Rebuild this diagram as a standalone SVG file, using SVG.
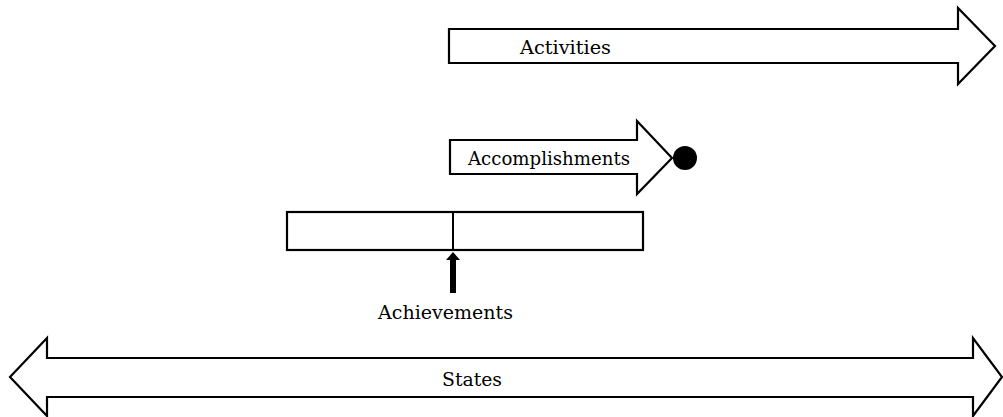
<svg xmlns="http://www.w3.org/2000/svg" width="1003" height="417" viewBox="0 0 1003 417">
  <style>
    .shape { fill: #ffffff; stroke: #000000; stroke-width: 2.2; stroke-linejoin: miter; }
    .label { font-family: "DejaVu Serif", "Liberation Serif", serif; font-size: 19px; fill: #000000; }
  </style>
  <rect x="0" y="0" width="1003" height="417" fill="#ffffff"/>

  <!-- Activities: long right-pointing block arrow -->
  <g id="activities">
    <path class="shape" d="M449,29 H958 V8 L995,46 L958,84 V63 H449 Z"/>
    <text class="label" x="520" y="54" textLength="91" lengthAdjust="spacingAndGlyphs">Activities</text>
  </g>

  <!-- Accomplishments: shorter block arrow ending in a dot -->
  <g id="accomplishments">
    <path class="shape" d="M450,140 H637 V121 L672,158 L637,194 V174 H450 Z"/>
    <circle cx="685" cy="158" r="12" fill="#000000"/>
    <text class="label" x="468" y="165" textLength="162" lengthAdjust="spacingAndGlyphs">Accomplishments</text>
  </g>

  <!-- Achievements: bar with a single point marked -->
  <g id="achievements">
    <rect class="shape" x="287" y="212" width="356" height="38"/>
    <line x1="453" y1="212" x2="453" y2="250" stroke="#000000" stroke-width="2"/>
    <path d="M453,252 L460,260 H456 V293 H450 V260 H446 Z" fill="#000000"/>
    <text class="label" x="378" y="319" textLength="135" lengthAdjust="spacingAndGlyphs">Achievements</text>
  </g>

  <!-- States: double-headed block arrow spanning the width -->
  <g id="states">
    <path class="shape" d="M10,377 L47,338 V358 H973 V338 L1002,377 L973,416 V397 H47 V416 Z"/>
    <text class="label" x="442" y="386" textLength="60" lengthAdjust="spacingAndGlyphs">States</text>
  </g>
</svg>
